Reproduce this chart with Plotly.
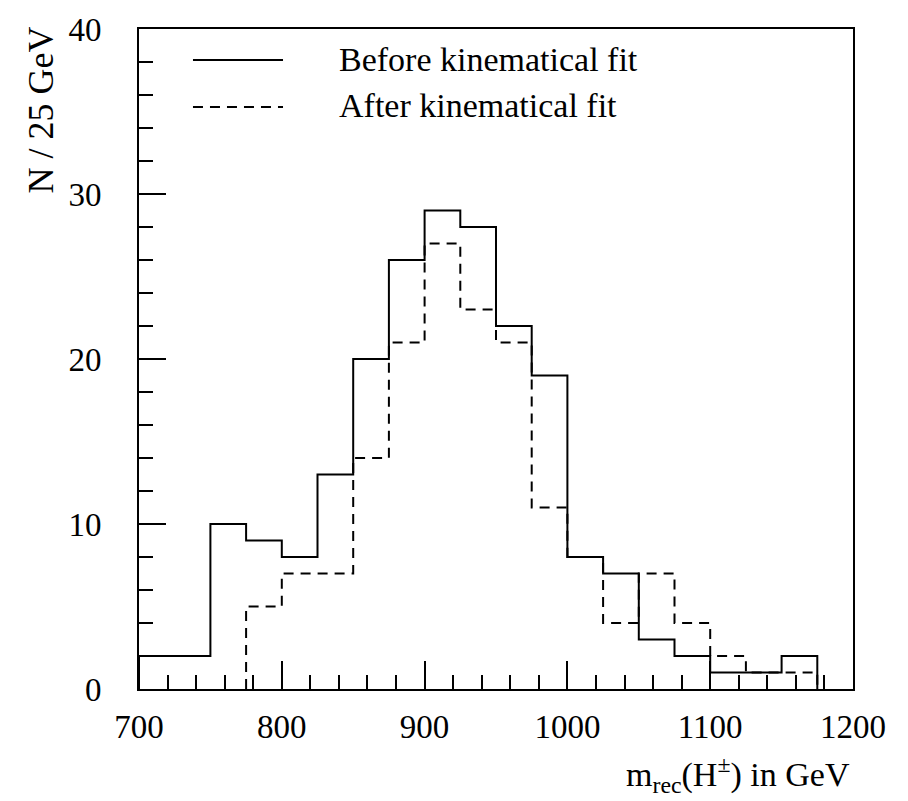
import plotly.graph_objects as go

# ---- data ----
bin_edges = list(range(700, 1201, 25))  # 25 GeV bins
before_fit = [2, 2, 10, 9, 8, 13, 20, 26, 29, 28, 22, 19, 8, 7, 3, 2, 1, 1, 2, 0]
after_fit = [0, 0, 0, 5, 7, 7, 14, 21, 27, 23, 21, 11, 8, 4, 7, 4, 2, 1, 1, 0]
x_ticks = [700, 800, 900, 1000, 1100, 1200]
y_ticks = [0, 10, 20, 30, 40]
legend_names = ["Before kinematical fit", "After kinematical fit"]

FONT = "Liberation Serif"


def step_xy(edges, counts):
    # trim leading / trailing empty bins
    i0 = 0
    while i0 < len(counts) and counts[i0] == 0:
        i0 += 1
    i1 = len(counts)
    while i1 > i0 and counts[i1 - 1] == 0:
        i1 -= 1
    e = edges[i0:i1 + 1]
    c = counts[i0:i1]
    xs = [e[0]] + list(e)
    ys = [0] + list(c) + [0]
    return xs, ys


fig = go.Figure()
for counts, dash, name in [(before_fit, "solid", legend_names[0]),
                           (after_fit, "10px,7px", legend_names[1])]:
    xs, ys = step_xy(bin_edges, counts)
    fig.add_trace(go.Scatter(x=xs, y=ys, mode="lines", line_shape="hv",
                             line=dict(color="black", width=2, dash=dash),
                             name=name, showlegend=False))

# manual legend
leg_y = [0.953, 0.882]
for yy, dash, name in zip(leg_y, ["solid", "10px,7px"], legend_names):
    fig.add_shape(type="line", xref="paper", yref="paper",
                  x0=0.0756, x1=0.2017, y0=yy, y1=yy,
                  line=dict(color="black", width=2, dash=dash))
    fig.add_annotation(text=name, xref="paper", yref="paper",
                       x=0.277, y=yy, yshift=1, xanchor="left", yanchor="middle",
                       showarrow=False, font=dict(family=FONT, size=34, color="black"))

# axis titles
fig.add_annotation(text="N / 25 GeV", xref="paper", yref="paper",
                   x=0, y=1, xshift=-99, yshift=4, textangle=-90,
                   xanchor="center", yanchor="top", showarrow=False,
                   font=dict(family=FONT, size=36, color="black"))
fig.add_annotation(text="m<sub>rec</sub>(H<sup>±</sup>) in GeV", xref="paper", yref="paper",
                   x=1, xshift=-1, y=0, xanchor="right", yanchor="top", yshift=-60,
                   showarrow=False, font=dict(family=FONT, size=34, color="black"))

axis_common = dict(showline=True, linecolor="black", linewidth=2, mirror=True,
                   showgrid=False, zeroline=False, ticks="inside", tickwidth=2,
                   tickcolor="black", tickfont=dict(family=FONT, size=33, color="black"))

fig.update_xaxes(range=[700, 1200], tickvals=x_ticks, ticklen=28,
                 minor=dict(dtick=20, tick0=700, ticks="inside", ticklen=14,
                            tickwidth=2, tickcolor="black"),
                 ticklabelstandoff=7, **axis_common)
fig.update_yaxes(range=[0, 40], tickvals=y_ticks, ticklen=27,
                 minor=dict(dtick=2, tick0=0, ticks="inside", ticklen=14,
                            tickwidth=2, tickcolor="black"),
                 ticklabelstandoff=29, **axis_common)

fig.update_layout(width=908, height=801, paper_bgcolor="white", plot_bgcolor="white",
                  margin=dict(l=139, r=55, t=24, b=112), showlegend=False)

fig.write_html("out.html")
